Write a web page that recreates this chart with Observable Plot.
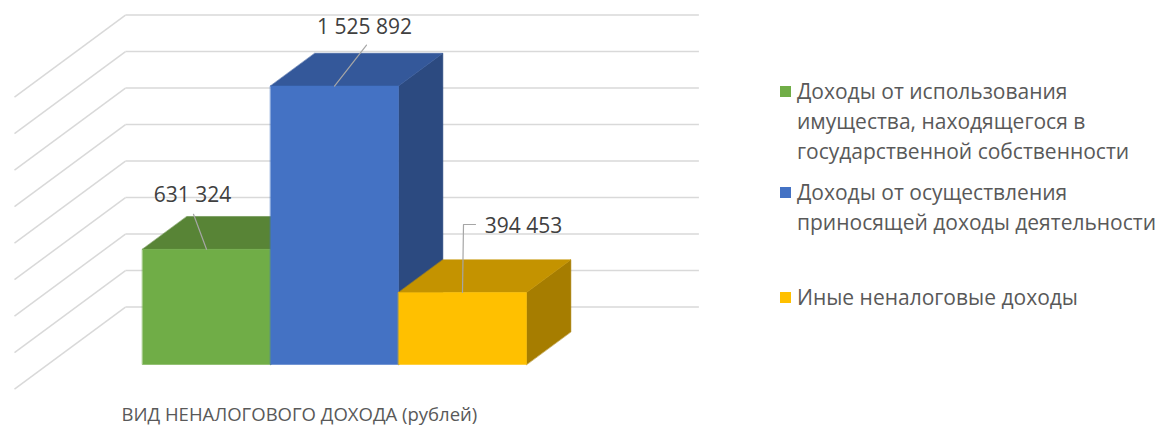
<!DOCTYPE html>
<html>
<head>
<meta charset="utf-8">
<script src="https://cdn.jsdelivr.net/npm/d3@7"></script>
<script src="https://cdn.jsdelivr.net/npm/@observablehq/plot@0.6"></script>
<style>
  html, body { margin: 0; padding: 0; background: #fff; }
  #wrap { position: relative; width: 1157px; height: 426px; overflow: hidden; }
  #chart { position: absolute; left: 0; top: 0; }
  .leg { position: absolute; left: 780px; font-family: "Open Sans", sans-serif; font-size: 21px; line-height: 30px; color: #595959; }
  .leg .sw { position: absolute; left: 0; top: 10px; width: 11px; height: 11px; }
  .leg .tx { margin-left: 17px; white-space: nowrap; }
</style>
</head>
<body>
<div id="wrap"><div id="chart"></div></div>
<script>
// ---- data ----
const categories = [
  "Доходы от использования имущества, находящегося в государственной собственности",
  "Доходы от осуществления приносящей доходы деятельности",
  "Иные неналоговые доходы"
];
const legendLines = [
  ["Доходы от использования", "имущества, находящегося в", "государственной собственности"],
  ["Доходы от осуществления", "приносящей доходы деятельности"],
  ["Иные неналоговые доходы"]
];
const values = [631324, 1525892, 394453];
const valueLabels = ["631 324", "1 525 892", "394 453"];
const gridValues = [0, 200000, 400000, 600000, 800000, 1000000, 1200000, 1400000, 1600000];
const axisTitle = "ВИД НЕНАЛОГОВОГО ДОХОДА (рублей)";

// ---- styles ----
const frontColors = ["#70AD47", "#4472C4", "#FFC000"];
const topColors   = ["#588436", "#34589A", "#C49300"];
const sideColors  = ["#4A7030", "#2C4A80", "#A67D00"];
const legendTops = [76, 177, 282];

// ---- layout / oblique projection ----
const W = 740, H = 426;
const X0 = 172.7, KX = 128;       // px at category 0, px per category
const Y0 = 388.6, KY = 1.825e-4;  // px at value 0 (floor front), px per ruble
const DX = 111 / KX, DY = 82 / KY; // shift per unit of depth (0 = front, 1 = back wall)
const D_FRONT = 0.3, D_BACK = 0.7;
const U_LEFT = -1.24, U_RIGHT = 3.24;
const P = (u, v, d) => ({x: u + d * DX, y: v + d * DY});

// faces
const faces = [];
values.forEach((v, i) => {
  const l = i - 0.5, r = i + 0.5;
  const side = [P(r, 0, D_FRONT), P(r, v, D_FRONT), P(r, v, D_BACK), P(r, 0, D_BACK)];
  const top = [P(l, v, D_FRONT), P(r, v, D_FRONT), P(r, v, D_BACK), P(l, v, D_BACK)];
  const front = [P(l, 0, D_FRONT), P(r, 0, D_FRONT), P(r, v, D_FRONT), P(l, v, D_FRONT)];
  [[side, sideColors[i], "s"], [top, topColors[i], "t"], [front, frontColors[i], "f"]].forEach(([pts, c, k]) => {
    pts.forEach(p => faces.push({...p, id: `${i}-${k}`, color: c}));
  });
});

// gridlines
const backLines = gridValues.map(g => ({a: P(U_LEFT, g, 1), b: P(U_RIGHT, g, 1)}));
const sideLines = gridValues.map(g => ({a: P(U_LEFT, g, 1), b: P(U_LEFT, g, 0)}));

// labels (pixel offsets from bar front-top centre)
const labelOffsets = [[-14, -54], [30, -59], [61, -66]];
const leaderOffsets = [
  [[0, 0], [-13, -35]],
  [[0, 0], [32, -41]],
  [[0, 0], [1, -68], [13, -68]]
];
const leaders = [];
leaderOffsets.forEach((pts, i) => {
  const a = P(i, values[i], D_FRONT);
  pts.forEach(([ox, oy]) => leaders.push({x: a.x + ox / KX, y: a.y - oy / KY, id: i}));
});

const marks = [
  Plot.link(backLines, {x1: d => d.a.x, y1: d => d.a.y, x2: d => d.b.x, y2: d => d.b.y, stroke: "#D9D9D9", strokeWidth: 1.5}),
  Plot.link(sideLines, {x1: d => d.a.x, y1: d => d.a.y, x2: d => d.b.x, y2: d => d.b.y, stroke: "#D9D9D9", strokeWidth: 1.5}),
  Plot.line(faces, {x: "x", y: "y", z: "id", fill: "color", stroke: "color", strokeWidth: 0.5, curve: "linear-closed"}),
  Plot.line(leaders, {x: "x", y: "y", z: "id", stroke: "#A6A6A6", strokeWidth: 1.2}),
];
values.forEach((v, i) => {
  const a = P(i, v, D_FRONT);
  marks.push(Plot.text([a], {
    x: "x", y: "y", text: () => valueLabels[i],
    dx: labelOffsets[i][0], dy: labelOffsets[i][1],
    fill: "#404040", fontSize: 21, fontFamily: "Open Sans"
  }));
});
marks.push(Plot.text([axisTitle], {
  text: d => d, frameAnchor: "bottom-left", dx: 121, dy: -6,
  fill: "#595959", fontSize: 18.5, fontFamily: "Open Sans", textAnchor: "start"
}));

const chart = Plot.plot({
  width: W, height: H,
  marginLeft: 0, marginRight: 0, marginTop: 0, marginBottom: 0,
  x: {type: "linear", domain: [-X0 / KX, (W - X0) / KX], range: [0, W], axis: null},
  y: {type: "linear", domain: [(Y0 - H) / KY, Y0 / KY], range: [H, 0], axis: null},
  color: {type: "identity"},
  style: {background: "white", overflow: "visible"},
  marks
});
document.getElementById("chart").appendChild(chart);

// legend
const wrap = document.getElementById("wrap");
legendLines.forEach((lines, i) => {
  const div = document.createElement("div");
  div.className = "leg";
  div.style.top = legendTops[i] + "px";
  const sw = document.createElement("div");
  sw.className = "sw";
  sw.style.background = frontColors[i];
  div.appendChild(sw);
  lines.forEach(t => {
    const tx = document.createElement("div");
    tx.className = "tx";
    tx.textContent = t;
    div.appendChild(tx);
  });
  div.title = categories[i];
  wrap.appendChild(div);
});
</script>
</body>
</html>
